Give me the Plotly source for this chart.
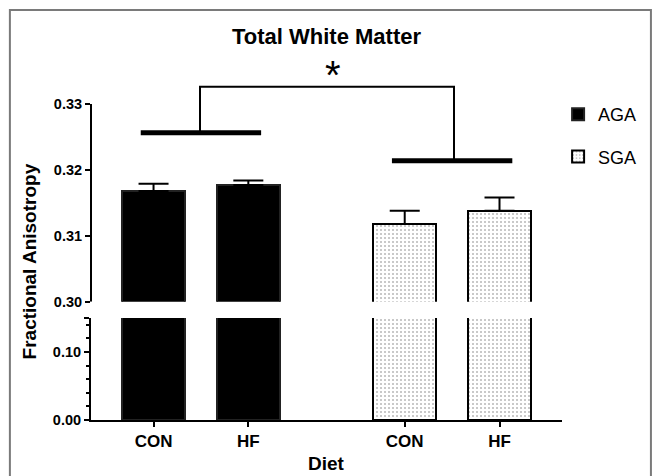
import plotly.graph_objects as go

# ---------------- data ----------------
diets = ["CON", "HF", "CON", "HF"]
groups = ["AGA", "SGA"]
x_aga = [0.0, 1.0]
x_sga = [2.65, 3.65]
aga_mean = [0.3168, 0.3177]
aga_sem = [0.0011, 0.0007]
sga_mean = [0.3118, 0.3138]
sga_sem = [0.0020, 0.0020]

# significance bracket (data units)
aga_line_y = 0.32565
sga_line_y = 0.3214
bracket_top_y = 0.3326
aga_bracket_x = 0.49
sga_bracket_x = 3.17
group_line_half = 0.635

upper_ticks = [0.30, 0.31, 0.32, 0.33]
lower_ticks = [0.00, 0.10, 0.15]
lower_ticktext = ["0.00", "0.10", ""]
lower_minor = [0.02, 0.04, 0.06, 0.08, 0.12, 0.14]

# ---------------- layout geometry (pixels) ----------------
W, H = 654, 476
L, R, T, B = 91, 573, 80, 420
pw, ph = R - L, B - T

def px(xp):
    return (xp - L) / pw

def py(yp):
    return (B - yp) / ph

FONT = "Arial, Liberation Sans, Helvetica, sans-serif"

fig = go.Figure()

bar_w = 0.67
aga_style = dict(color="black", line=dict(color="#222", width=2))
sga_style = dict(color="white", line=dict(color="black", width=2),
                 pattern=dict(shape=".", fgcolor="#6e6e6e", bgcolor="white",
                              size=4, solidity=0.2))

err = lambda v: dict(type="data", array=v, arrayminus=[0] * len(v), symmetric=False,
                     color="black", thickness=2, width=15)

# upper panel
fig.add_trace(go.Bar(x=x_aga, y=aga_mean, width=bar_w, marker=aga_style, name="AGA",
                     legendgroup="AGA", error_y=err(aga_sem), xaxis="x", yaxis="y2"))
fig.add_trace(go.Bar(x=x_sga, y=sga_mean, width=bar_w, marker=sga_style, name="SGA",
                     legendgroup="SGA", error_y=err(sga_sem), xaxis="x", yaxis="y2"))
# lower panel
fig.add_trace(go.Bar(x=x_aga, y=aga_mean, width=bar_w, marker=aga_style, name="AGA",
                     legendgroup="AGA", showlegend=False, xaxis="x", yaxis="y"))
fig.add_trace(go.Bar(x=x_sga, y=sga_mean, width=bar_w, marker=sga_style, name="SGA",
                     legendgroup="SGA", showlegend=False, xaxis="x", yaxis="y"))

shapes = []
# upper spine (0.30 - 0.33 only)
shapes.append(dict(type="line", xref="paper", yref="y2", x0=0, x1=0,
                   y0=upper_ticks[0], y1=upper_ticks[-1], line=dict(color="black", width=2)))
# group lines
shapes.append(dict(type="line", xref="x", yref="y2",
                   x0=(x_aga[0] + x_aga[1]) / 2 - group_line_half,
                   x1=(x_aga[0] + x_aga[1]) / 2 + group_line_half,
                   y0=aga_line_y, y1=aga_line_y, line=dict(color="black", width=5)))
shapes.append(dict(type="line", xref="x", yref="y2",
                   x0=(x_sga[0] + x_sga[1]) / 2 - group_line_half,
                   x1=(x_sga[0] + x_sga[1]) / 2 + group_line_half,
                   y0=sga_line_y, y1=sga_line_y, line=dict(color="black", width=5)))
# bracket
shapes.append(dict(type="path", xref="x", yref="y2",
                   path=f"M {aga_bracket_x},{aga_line_y} L {aga_bracket_x},{bracket_top_y} "
                        f"L {sga_bracket_x},{bracket_top_y} L {sga_bracket_x},{sga_line_y}",
                   line=dict(color="black", width=2)))
# outer frame
shapes.append(dict(type="rect", xref="paper", yref="paper",
                   x0=px(8), x1=px(W + 10), y0=py(H + 10), y1=py(10),
                   line=dict(color="#7a7a7a", width=2), fillcolor="rgba(0,0,0,0)"))

annotations = [
    dict(text="*", xref="paper", yref="paper", x=px(339), y=py(75), showarrow=False,
         font=dict(family=FONT, size=40, color="black"), xanchor="center", yanchor="middle"),
    dict(text="<b>Fractional Anisotropy</b>", xref="paper", yref="paper", x=px(28), y=py(261),
         textangle=-90, showarrow=False, font=dict(family=FONT, size=19, color="black"),
         xanchor="center", yanchor="middle"),
    dict(text="<b>Diet</b>", xref="paper", yref="paper", x=px(332), y=py(476),
         showarrow=False, font=dict(family=FONT, size=19, color="black"),
         xanchor="center", yanchor="bottom"),
]

fig.update_layout(
    width=W, height=H,
    margin=dict(l=L, r=W - R, t=T, b=H - B),
    paper_bgcolor="white", plot_bgcolor="white",
    barmode="overlay",
    bargap=0,
    title=dict(text="<b>Total White Matter</b>", x=px(332), xref="paper",
               y=1 - 36 / H, yref="container", xanchor="center", yanchor="middle",
               font=dict(family=FONT, size=22, color="black")),
    font=dict(family=FONT, color="black"),
    xaxis=dict(range=[-(155 - L) / 97, (R - 155) / 97], tickvals=x_aga + x_sga, ticktext=diets,
               showline=True, linecolor="black", linewidth=2, ticks="outside", ticklen=5,
               tickwidth=2, tickcolor="black", showgrid=False, zeroline=False,
               tickfont=dict(family=FONT, size=17, color="black", weight="bold"),
               anchor="y"),
    yaxis=dict(domain=[0, py(318)], range=[0, 0.15], tickvals=lower_ticks, ticktext=lower_ticktext,
               showline=True, linecolor="black", linewidth=2, ticks="outside", ticklen=5,
               tickwidth=2, tickcolor="black", showgrid=False, zeroline=False,
               minor=dict(tickvals=lower_minor, ticks="outside", ticklen=3, tickwidth=1.5,
                          tickcolor="black", showgrid=False),
               tickfont=dict(family=FONT, size=14.5, color="black", weight="bold"),
               anchor="x"),
    yaxis2=dict(domain=[py(301.7), 1], range=[0.30, 0.30 + (301.7 - T) / 6590],
                tickvals=upper_ticks, tickformat=".2f",
                showline=False, ticks="outside", ticklen=5, tickwidth=2, tickcolor="black",
                showgrid=False, zeroline=False,
                tickfont=dict(family=FONT, size=14.5, color="black", weight="bold"),
                anchor="x"),
    legend=dict(x=px(569), y=py(96), xanchor="left", yanchor="top",
                font=dict(family=FONT, size=18, color="black"),
                tracegroupgap=16, bgcolor="rgba(0,0,0,0)", traceorder="grouped"),
    shapes=shapes,
    annotations=annotations,
)

fig.write_html("out.html")
